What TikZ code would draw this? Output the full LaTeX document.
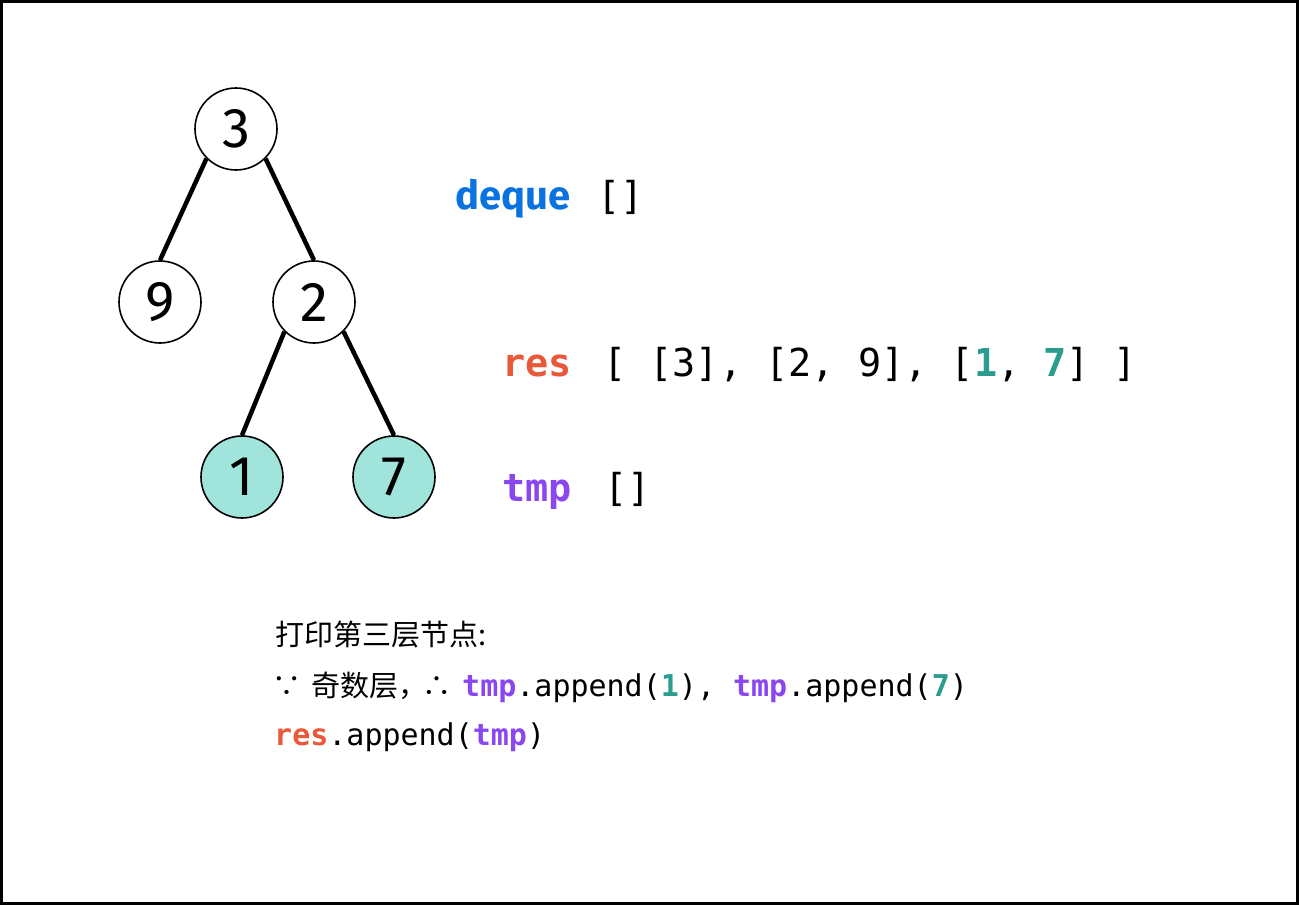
\documentclass[tikz,border=0pt]{standalone}
\usepackage{fontspec}
\setmonofont{DejaVu Sans Mono}
\newfontfamily\cjk{Noto Sans CJK SC}
\newfontfamily\fira{Fira Sans}
\definecolor{cblue}{HTML}{0B73E0}
\definecolor{cres}{HTML}{E8593A}
\definecolor{ctmp}{HTML}{8A46EF}
\definecolor{cteal}{HTML}{2A9D8F}
\definecolor{cfill}{HTML}{A0E4DC}
\tikzset{
  tnode/.style={circle, draw=black, line width=1.6pt, minimum size=82pt, inner sep=0pt, fill=white, font=\fira\fontsize{56}{56}\selectfont},
  leaf/.style={tnode, fill=cfill},
  edge/.style={line width=4.5pt, black},
  big/.style={anchor=base west, inner sep=0pt, font=\ttfamily\fontsize{38.5}{38.5}\selectfont},
  small/.style={anchor=base west, inner sep=0pt, font=\ttfamily\fontsize{30}{30}\selectfont},
  cjktext/.style={anchor=base west, inner sep=0pt, font=\cjk\fontsize{29}{29}\selectfont},
}
\newcommand{\kw}[2]{\textcolor{#1}{\bfseries #2}}
\begin{document}
\begin{tikzpicture}[x=1pt,y=-1pt]
\useasboundingbox (0,0) rectangle (1299,905);
\draw[line width=3pt] (1.5,1.5) rectangle (1297.5,903.5);

\node[tnode] (n3) at (236,129) {3};
\node[tnode] (n9) at (160,302) {9};
\node[tnode] (n2) at (314,302) {2};
\node[leaf] (n1) at (242,477) {1};
\node[leaf] (n7) at (394,477) {7};

\draw[edge] (n3.south west) -- (n9.north);
\draw[edge] (n3.south east) -- (n2.north);
\draw[edge] (n2.south west) -- (n1.north);
\draw[edge] (n2.south east) -- (n7.north);

\node[anchor=base west, inner sep=0pt, font=\fira\bfseries\fontsize{40}{40}\selectfont, text=cblue] (dq) at (455,209) {deque};
\node[big] (dqv) at (597,209) {[]};

\node[big] (rs) at (502,376) {\kw{cres}{res}};
\node[big] (rsv) at (603,376) {[ [3], [2, 9], [\kw{cteal}{1}, \kw{cteal}{7}] ]};

\node[big] (tp) at (502,501) {\kw{ctmp}{tmp}};
\node[big] (tpv) at (604,501) {[]};

\node[cjktext] (l1) at (275,645) {打印第三层节点:};
\node[cjktext] (l2a) at (272,696) {∵};
\node[cjktext] (l2c) at (311,696) {奇数层，};
\node[cjktext] (l2d) at (422,696) {∴};
\node[small] (l2b) at (462,696) {\kw{ctmp}{tmp}.append(\kw{cteal}{1}), \kw{ctmp}{tmp}.append(\kw{cteal}{7})};
\node[small] (l3) at (274,745) {\kw{cres}{res}.append(\kw{ctmp}{tmp})};
\end{tikzpicture}
\end{document}
